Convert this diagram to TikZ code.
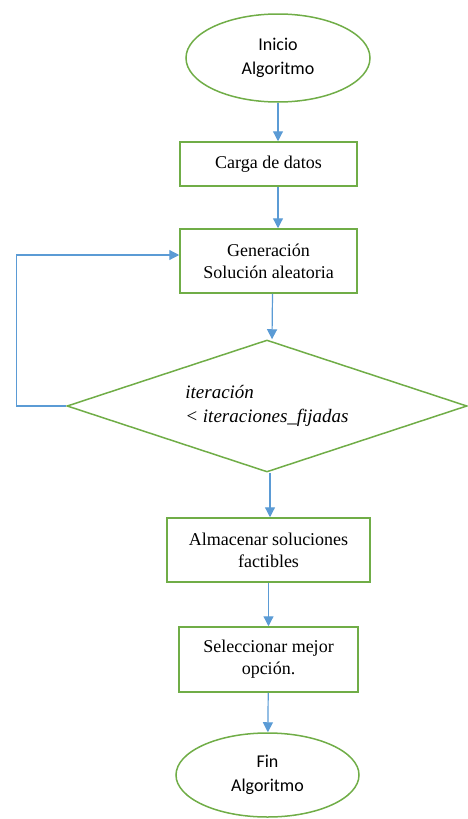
\documentclass[tikz,border=0pt]{standalone}
\usepackage{fontspec}
\setmainfont{Liberation Serif}
\newfontfamily\timesFont{Liberation Serif}
\newfontfamily\calibriFont{Carlito}
\usetikzlibrary{shapes.geometric,arrows.meta}
\definecolor{boxgreen}{HTML}{70AD47}
\definecolor{arrowblue}{HTML}{5B9BD5}
\newcommand{\stepFont}[0]{\timesFont\fontsize{18}{22}\selectfont}
\newcommand{\termFont}[0]{\calibriFont\fontsize{18}{24}\selectfont}
\newcommand{\condFont}[0]{\timesFont\itshape\fontsize{19}{24}\selectfont}

\begin{document}
\begin{tikzpicture}[x=1pt, y=-1pt]
  \tikzset{process/.style={draw=boxgreen, line width=1.5pt, rectangle, align=center, font=\stepFont, inner sep=0pt},
    terminal/.style={draw=boxgreen, line width=1.5pt, ellipse, align=center, font=\termFont, inner sep=0pt},
    decision/.style={draw=boxgreen, line width=1.5pt, diamond, aspect=3, align=left, font=\condFont, inner sep=0pt},
    flow/.style={arrowblue, line width=1.2pt, -{Triangle[width=10pt,length=10pt]}}}
  \useasboundingbox (0,0) rectangle (467,819);
  \node[terminal, minimum width=184pt, minimum height=88pt] (ini-alg) at (278,58) {Inicio\\Algoritmo};
  \node[process, minimum width=177pt, minimum height=44pt] (carga) at (268.5,164) {Carga de datos};
  \node[process, minimum width=177pt, minimum height=64pt] (gen-sol) at (268.5,261) {Generación\\Solución aleatoria};
  \node[decision, minimum width=400pt, minimum height=132pt] (iter-cond) at (267,406) {iteración\\< iteraciones\_fijadas};
  \node[process, minimum width=203pt, minimum height=64pt] (almacenar) at (268.5,550) {Almacenar soluciones\\factibles};
  \node[process, minimum width=179pt, minimum height=65pt] (seleccion) at (268.5,659.5) {Seleccionar mejor\\opción.};
  \node[terminal, minimum width=183pt, minimum height=84pt] (fin-alg) at (267.5,775) {Fin\\Algoritmo};
  \draw[flow] (ini-alg) -- (carga.north -| ini-alg);
  \draw[flow] (carga.south -| ini-alg) -- (gen-sol.north -| ini-alg);
  \draw[flow] ([xshift=4pt]gen-sol.south) -- ([xshift=5pt]iter-cond.north);
  \draw[flow] ([xshift=3pt]iter-cond.south) -- ([xshift=1.5pt]almacenar.north);
  \draw[flow] (almacenar) -- (seleccion);
  \draw[flow] (seleccion) -- (fin-alg);
  \draw[flow] (iter-cond.west) -- ++(-50,0) |- ([yshift=6pt]gen-sol.west);
\end{tikzpicture}
\end{document}
